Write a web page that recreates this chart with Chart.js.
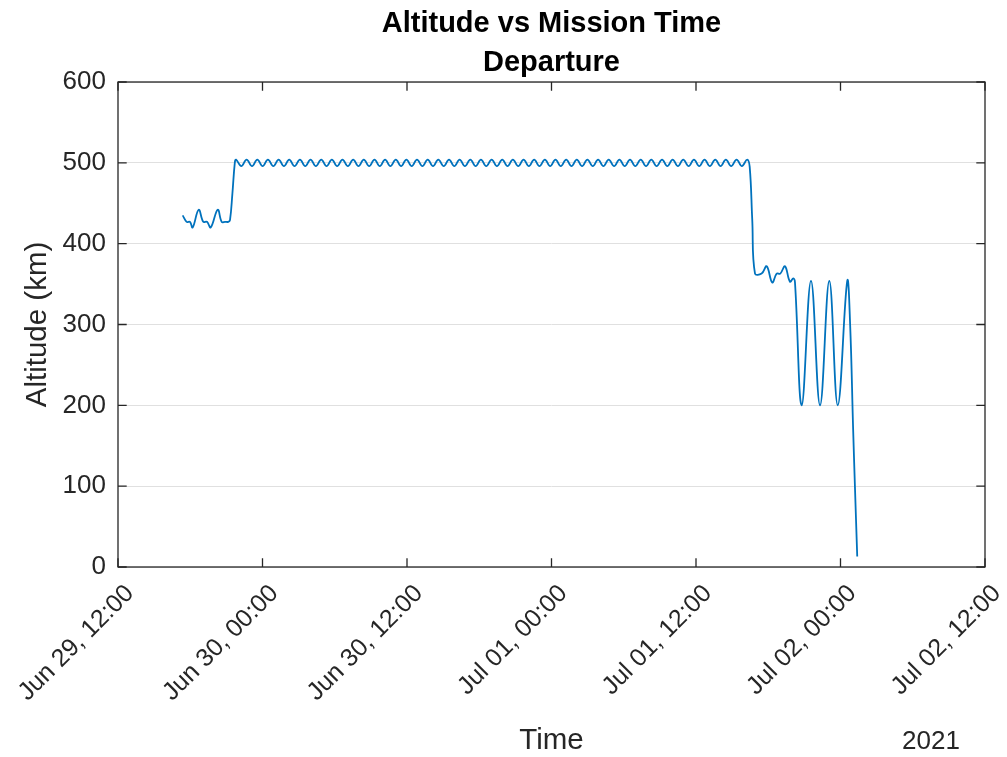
<!DOCTYPE html>
<html>
<head>
<meta charset="utf-8">
<script src="https://cdn.jsdelivr.net/npm/chart.js@4.4.1/dist/chart.umd.min.js"></script>
<style>
  html, body { margin: 0; padding: 0; background: #fff; }
  canvas { display: block; }
</style>
</head>
<body>
<canvas id="c" width="1007" height="757"></canvas>
<script>
// Hours since Jun 29, 12:00 (UTC) and altitude in km, split by mission phase.
const ascentHours = [5.37, 5.70, 5.98, 6.20, 6.70, 7.08, 7.39, 7.70, 8.28, 8.61, 8.89, 9.16, 9.30, 9.50, 9.70];
const ascentKm    = [435,  427,  427,  420,  442,  427,  427,  420,  442,  427,  427,  427,  429,  462,  500];

const cruiseHours = [
  9.80, 10.24, 10.68, 11.13, 11.57, 12.01, 12.45, 12.90, 13.34, 13.78,
  14.22, 14.66, 15.11, 15.55, 15.99, 16.43, 16.88, 17.32, 17.76, 18.20,
  18.64, 19.09, 19.53, 19.97, 20.41, 20.86, 21.30, 21.74, 22.18, 22.62,
  23.07, 23.51, 23.95, 24.39, 24.83, 25.28, 25.72, 26.16, 26.60, 27.05,
  27.49, 27.93, 28.37, 28.81, 29.26, 29.70, 30.14, 30.58, 31.03, 31.47,
  31.91, 32.35, 32.79, 33.24, 33.68, 34.12, 34.56, 35.00, 35.45, 35.89,
  36.33, 36.77, 37.22, 37.66, 38.10, 38.54, 38.98, 39.43, 39.87, 40.31,
  40.75, 41.20, 41.64, 42.08, 42.52, 42.96, 43.41, 43.85, 44.29, 44.73,
  45.18, 45.62, 46.06, 46.50, 46.94, 47.39, 47.83, 48.27, 48.71, 49.15,
  49.60, 50.04, 50.48, 50.92, 51.37, 51.81, 52.25
];
const cruiseKm = [
  504, 496, 504, 496, 504, 496, 504, 496, 504, 496,
  504, 496, 504, 496, 504, 496, 504, 496, 504, 496,
  504, 496, 504, 496, 504, 496, 504, 496, 504, 496,
  504, 496, 504, 496, 504, 496, 504, 496, 504, 496,
  504, 496, 504, 496, 504, 496, 504, 496, 504, 496,
  504, 496, 504, 496, 504, 496, 504, 496, 504, 496,
  504, 496, 504, 496, 504, 496, 504, 496, 504, 496,
  504, 496, 504, 496, 504, 496, 504, 496, 504, 496,
  504, 496, 504, 496, 504, 496, 504, 496, 504, 496,
  504, 496, 504, 496, 504, 496, 504
];

const descentHours = [52.46, 52.67, 52.90, 53.45, 53.87, 54.33, 54.70, 55.00, 55.39, 55.80, 56.08, 56.22,
                      56.78, 57.55, 58.30, 59.07, 59.77, 60.56, 60.80, 61.05, 61.20, 61.39];
const descentKm    = [495,   430,   363,   363,   372,   352,   363,   363,   372,   353,   357,   352,
                      200,   354,   200,   354,   200,   354,   300,   170,   99,    13];

const xTickLabels = ['Jun 29, 12:00', 'Jun 30, 00:00', 'Jun 30, 12:00', 'Jul 01, 00:00',
                     'Jul 01, 12:00', 'Jul 02, 00:00', 'Jul 02, 12:00'];
const titleLines = ['Altitude vs Mission Time', 'Departure'];
const yearLabel = '2021';

const hours = ascentHours.concat(cruiseHours, descentHours);
const altitudeKm = ascentKm.concat(cruiseKm, descentKm);
const points = hours.map((h, i) => ({ x: h, y: altitudeKm[i] }));

const FONT = '"Liberation Sans", Arial, Helvetica, sans-serif';
const INK = '#262626';
const TICK_SIZE = 26;
const LABEL_SIZE = 29.5;

// Axes box with inward tick marks, the two-line title and the year label.
const figureDecor = {
  id: 'figureDecor',
  afterDraw(chart) {
    const { ctx, chartArea: a, scales: { x, y } } = chart;
    ctx.save();
    ctx.strokeStyle = INK;
    ctx.lineWidth = 1.3;
    ctx.strokeRect(a.left, a.top, a.right - a.left, a.bottom - a.top);
    const tl = 8.7;
    ctx.beginPath();
    x.ticks.forEach(t => {
      const px = x.getPixelForValue(t.value);
      ctx.moveTo(px, a.bottom); ctx.lineTo(px, a.bottom - tl);
      ctx.moveTo(px, a.top); ctx.lineTo(px, a.top + tl);
    });
    y.ticks.forEach(t => {
      const py = y.getPixelForValue(t.value);
      ctx.moveTo(a.left, py); ctx.lineTo(a.left + tl, py);
      ctx.moveTo(a.right, py); ctx.lineTo(a.right - tl, py);
    });
    ctx.stroke();

    const cx = (a.left + a.right) / 2;
    ctx.textAlign = 'center';
    ctx.textBaseline = 'middle';
    ctx.fillStyle = '#000';
    ctx.font = `bold 29px ${FONT}`;
    ctx.fillText(titleLines[0], cx, a.top - 58);
    ctx.fillText(titleLines[1], cx, a.top - 19);

    ctx.fillStyle = INK;
    ctx.font = `${TICK_SIZE}px ${FONT}`;
    ctx.fillText(yearLabel, a.right - 54, 742);
    ctx.restore();
  }
};

new Chart(document.getElementById('c'), {
  type: 'line',
  data: {
    datasets: [{
      data: points,
      borderColor: '#0072BD',
      borderWidth: 1.8,
      pointRadius: 0,
      tension: 0.4,
      fill: false
    }]
  },
  options: {
    responsive: false,
    animation: false,
    devicePixelRatio: 1,
    layout: { padding: { top: 82, right: 22, bottom: 0, left: 0 } },
    plugins: { legend: { display: false }, tooltip: { enabled: false } },
    scales: {
      x: {
        type: 'linear',
        min: 0,
        max: 72,
        grid: { display: false, drawTicks: false },
        border: { display: false },
        ticks: {
          stepSize: 12,
          autoSkip: false,
          minRotation: 45,
          maxRotation: 45,
          padding: 12,
          labelOffset: 12,
          color: INK,
          font: { family: FONT, size: 25 },
          callback: (v) => xTickLabels[Math.round(v / 12)]
        },
        title: {
          display: true,
          text: 'Time',
          color: INK,
          font: { family: FONT, size: LABEL_SIZE, lineHeight: 1 },
          padding: { top: 0, bottom: 1.5 }
        },
        afterFit: (s) => { s.height = 190; s.paddingLeft = 0; s.paddingRight = 0; }
      },
      y: {
        min: 0,
        max: 600,
        grid: { color: '#e0e0e0', lineWidth: 1, drawTicks: false },
        border: { display: false },
        ticks: {
          stepSize: 100,
          padding: 12,
          color: INK,
          font: { family: FONT, size: TICK_SIZE }
        },
        title: {
          display: true,
          text: 'Altitude (km)',
          color: INK,
          font: { family: FONT, size: LABEL_SIZE, lineHeight: 1 },
          padding: { top: 23.5, bottom: 0 }
        },
        afterFit: (s) => { s.width = 118; s.paddingTop = 0; s.paddingBottom = 0; }
      }
    }
  },
  plugins: [figureDecor]
});
</script>
</body>
</html>
